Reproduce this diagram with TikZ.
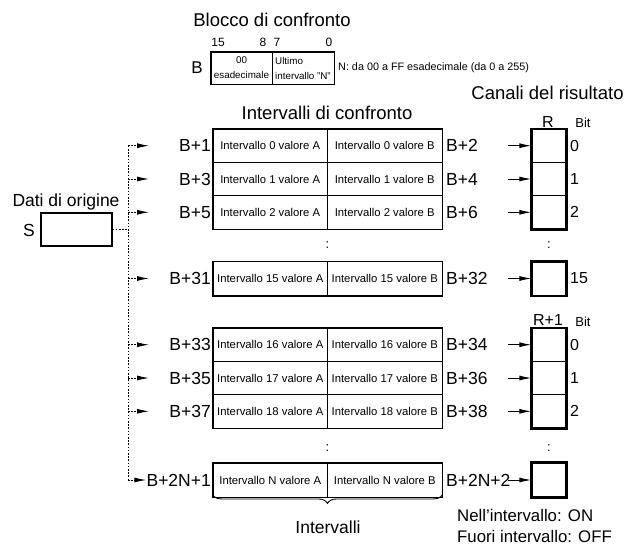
\documentclass[tikz,border=0pt]{standalone}
\usepackage{fontspec}
\setmainfont{Liberation Sans}
\usetikzlibrary{arrows.meta,decorations.pathreplacing}

\tikzset{
  lbl/.style={font=\fontsize{17.5}{20}\selectfont, inner sep=0pt},
  head/.style={font=\fontsize{18.5}{22}\selectfont, inner sep=0pt},
  cell/.style={draw, line width=0.9pt, minimum width=114.5pt, minimum height=33.3pt, inner sep=0pt, font=\fontsize{11.3}{13}\selectfont},
  bitbox/.style={draw, line width=1.3pt, minimum width=34pt, minimum height=33.3pt, inner sep=0pt},
  blkcell/.style={draw, line width=0.9pt, minimum height=32pt, inner sep=0pt, font=\fontsize{9.8}{15}\selectfont},
  frame/.style={line width=1.8pt},
  feed/.style={line width=0.9pt, dash pattern=on 1.6pt off 1.6pt},
  tip/.style={-{Latex[length=12pt,width=5pt]}},
  colon/.style={font=\fontsize{13}{15}\selectfont, inner sep=0pt},
}

\begin{document}
\begin{tikzpicture}[x=1pt, y=-1pt]
\useasboundingbox (0,0) rectangle (624,546);

% compare block
\node[head] (blkhead) at (272,20) {Blocco di confronto};
\node[blkcell, minimum width=61pt, align=center] (hexcell) at (241.5,68) {00\\esadecimale};
\node[blkcell, minimum width=62pt, align=left] (lastcell) at (303,68) {Ultimo\\intervallo "N"};
\draw[frame] (hexcell.north west) rectangle (lastcell.south east);
\node[font=\fontsize{17}{20}\selectfont, inner sep=0pt] (blkname) at (197,68) {B};
\foreach \pos/\bitno in {218/15, 263/8, 277/7, 329/0}
  \node[font=\fontsize{12}{14}\selectfont, inner sep=0pt] (bitno\bitno) at (\pos,42) {\bitno};
\node[font=\fontsize{10.8}{13}\selectfont, inner sep=0pt, anchor=west] (nrange) at (338,68) {N: da 00 a FF esadecimale (da 0 a 255)};

% source word
\node[head, font=\fontsize{17.5}{20}\selectfont] (srchead) at (66,202) {Dati di origine};
\node[draw, line width=1.2pt, minimum width=71pt, minimum height=33pt] (src) at (76.5,229.5) {};
\node[lbl] (srcname) at (29,230) {S};

\node[head] (rangehead) at (327,113) {Intervalli di confronto};
\node[head] (reshead) at (547.5,93) {Canali del risultato};
\node[font=\fontsize{16}{18}\selectfont, inner sep=0pt] (rname) at (548,122) {R};
\node[font=\fontsize{13}{15}\selectfont, inner sep=0pt] (bithead) at (583,123) {Bit};
\node[font=\fontsize{16}{18}\selectfont, inner sep=0pt] (rnext) at (548,320) {R+1};
\node[font=\fontsize{13}{15}\selectfont, inner sep=0pt] (bithead2) at (583,322) {Bit};

\coordinate (trunk) at (128,145.7);

\foreach \k/\y/\bl/\br/\bit in {0/145.7/1/2/0, 1/179/3/4/1, 2/212.3/5/6/2, 15/278.5/31/32/15, 16/344.7/33/34/0, 17/378/35/36/1, 18/411.3/37/38/2}{
  \node[cell] (va\k) at (270.25,\y) {Intervallo \k{} valore A};
  \node[cell] (vb\k) at (384.75,\y) {Intervallo \k{} valore B};
  \node[lbl, anchor=east] (lo\k) at (211,\y) {B+\bl};
  \node[lbl, anchor=west] (hi\k) at (446,\y) {B+\br};
  \node[bitbox] (r\k) at (549,\y) {};
  \node[font=\fontsize{16}{18}\selectfont, inner sep=0pt, anchor=west] (bit\k) at (570,\y) {\bit};
  \coordinate (in\k) at (149,\y);
  \coordinate (out\k) at (508,\y);
  \draw[feed, tip] (trunk |- in\k) -- (in\k);
  \draw[tip, line width=0.9pt] (out\k) -- (r\k.west);
}

% last range
\node[cell, minimum height=34pt] (vaN) at (270.25,480) {Intervallo N valore A};
\node[cell, minimum height=34pt] (vbN) at (384.75,480) {Intervallo N valore B};
\node[lbl, anchor=east] (loN) at (211,480) {B+2N+1};
\node[lbl, anchor=west] (hiN) at (446,480) {B+2N+2};
\node[bitbox, minimum height=34pt] (rN) at (549,480) {};
\coordinate (outN) at (508,480);
\draw[tip, line width=0.9pt] (outN) -- (rN.west);

\draw[feed] (src.east) -- (src.east -| trunk);
\draw[feed] (trunk) -- (trunk |- loN.west);
\draw[feed, tip] (trunk |- loN.west) -- (loN.west);

\draw[frame] (va0.north west) rectangle (vb2.south east);
\draw[frame] (va15.north west) rectangle (vb15.south east);
\draw[frame] (va16.north west) rectangle (vb18.south east);
\draw[frame] (vaN.north west) rectangle (vbN.south east);
\draw[frame] (r0.north west) rectangle (r2.south east);
\draw[frame] (r15.north west) rectangle (r15.south east);
\draw[frame] (r16.north west) rectangle (r18.south east);
\draw[frame] (rN.north west) rectangle (rN.south east);

\foreach \x/\y in {327.5/245, 549/245, 327.5/448, 549/448}
  \node[colon] at (\x,\y) {:};

\draw[line width=0.9pt, decorate, decoration={brace, mirror, amplitude=9pt, aspect=0.5}] ([yshift=3pt]vaN.south west) -- ([yshift=3pt]vbN.south east);
\node[lbl] (bracelbl) at (328,527) {Intervalli};
\node[font=\fontsize{16.8}{21}\selectfont, inner sep=0pt, align=left, anchor=west] (legend) at (457,526) {Nell\symbol{39}intervallo: ON\\Fuori intervallo: OFF};

\end{tikzpicture}
\end{document}
